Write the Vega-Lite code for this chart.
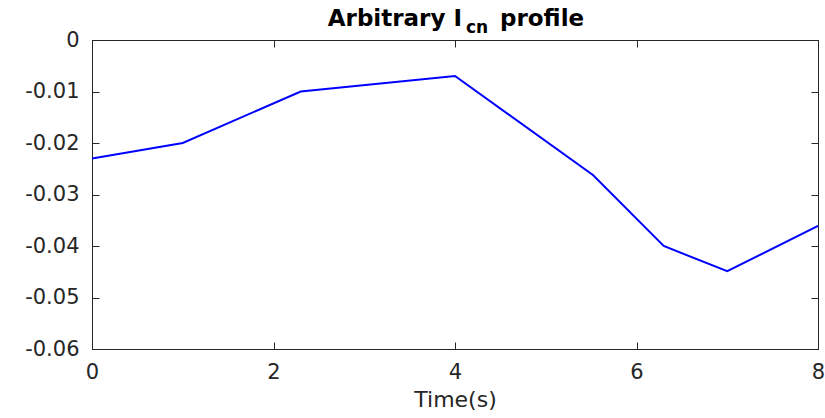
{
  "$schema": "https://vega.github.io/schema/vega-lite/v6.json",
  "width": 726,
  "height": 309,
  "autosize": {"type": "none"},
  "padding": {"left": 92, "top": 40, "right": 7, "bottom": 69},
  "background": "white",
  "config": {
    "view": {"stroke": "#262626", "strokeWidth": 1},
    "axis": {
      "domainColor": "#262626",
      "tickColor": "#262626",
      "labelColor": "#262626",
      "titleColor": "#262626",
      "labelFont": "DejaVu Sans",
      "titleFont": "DejaVu Sans",
      "labelFontSize": 21,
      "titleFontSize": 22,
      "titleFontWeight": "normal",
      "grid": false,
      "tickSize": -7,
      "labelFlush": false,
      "labelPadding": 20
    }
  },
  "data": {
    "values": [
      {"t": 0, "v": -0.023},
      {"t": 1, "v": -0.020},
      {"t": 2.3, "v": -0.010},
      {"t": 4, "v": -0.007},
      {"t": 5.52, "v": -0.0262},
      {"t": 6.3, "v": -0.040},
      {"t": 7.0, "v": -0.0449},
      {"t": 8, "v": -0.0361}
    ]
  },
  "layer": [
    {
      "mark": {"type": "line", "color": "#0000FF", "strokeWidth": 2, "clip": true},
      "encoding": {
        "x": {
          "field": "t", "type": "quantitative",
          "scale": {"domain": [0, 8], "nice": false, "zero": false},
          "axis": {"orient": "bottom", "title": "Time(s)", "values": [0, 2, 4, 6, 8], "format": "d", "titlePadding": 7, "labelPadding": 19}
        },
        "y": {
          "field": "v", "type": "quantitative",
          "scale": {"domain": [-0.06, 0], "nice": false},
          "axis": {"orient": "left", "title": null, "values": [-0.06, -0.05, -0.04, -0.03, -0.02, -0.01, 0], "labelPadding": 20,
            "labelExpr": "datum.value == 0 ? '0' : '-0.0' + round(-datum.value * 100)"}
        }
      }
    },
    {
      "mark": {"type": "line", "opacity": 0},
      "encoding": {
        "x": {"field": "t", "type": "quantitative",
          "axis": {"orient": "top", "title": null, "labels": false, "values": [0, 2, 4, 6, 8]}},
        "y": {"field": "v", "type": "quantitative",
          "axis": {"orient": "right", "title": null, "labels": false, "values": [-0.06, -0.05, -0.04, -0.03, -0.02, -0.01, 0]}}
      }
    },
    {
      "data": {"values": [{}]},
      "mark": {"type": "text", "text": "Arbitrary I", "font": "DejaVu Sans", "fontWeight": "bold", "fontSize": 23, "align": "right", "baseline": "alphabetic", "color": "black", "clip": false},
      "encoding": {"x": {"datum": 4.077, "type": "quantitative", "axis": null}, "y": {"datum": 0.00272, "type": "quantitative", "axis": null}}
    },
    {
      "data": {"values": [{}]},
      "mark": {"type": "text", "text": "cn", "font": "DejaVu Sans", "fontWeight": "bold", "fontSize": 17, "align": "left", "baseline": "alphabetic", "color": "black", "clip": false},
      "encoding": {"x": {"datum": 4.121, "type": "quantitative", "axis": null}, "y": {"datum": 0.00136, "type": "quantitative", "axis": null}}
    },
    {
      "data": {"values": [{}]},
      "mark": {"type": "text", "text": "profile", "font": "DejaVu Sans", "fontWeight": "bold", "fontSize": 23, "align": "left", "baseline": "alphabetic", "color": "black", "clip": false},
      "encoding": {"x": {"datum": 4.496, "type": "quantitative", "axis": null}, "y": {"datum": 0.00272, "type": "quantitative", "axis": null}}
    }
  ],
  "resolve": {"axis": {"x": "independent", "y": "independent"}}
}
